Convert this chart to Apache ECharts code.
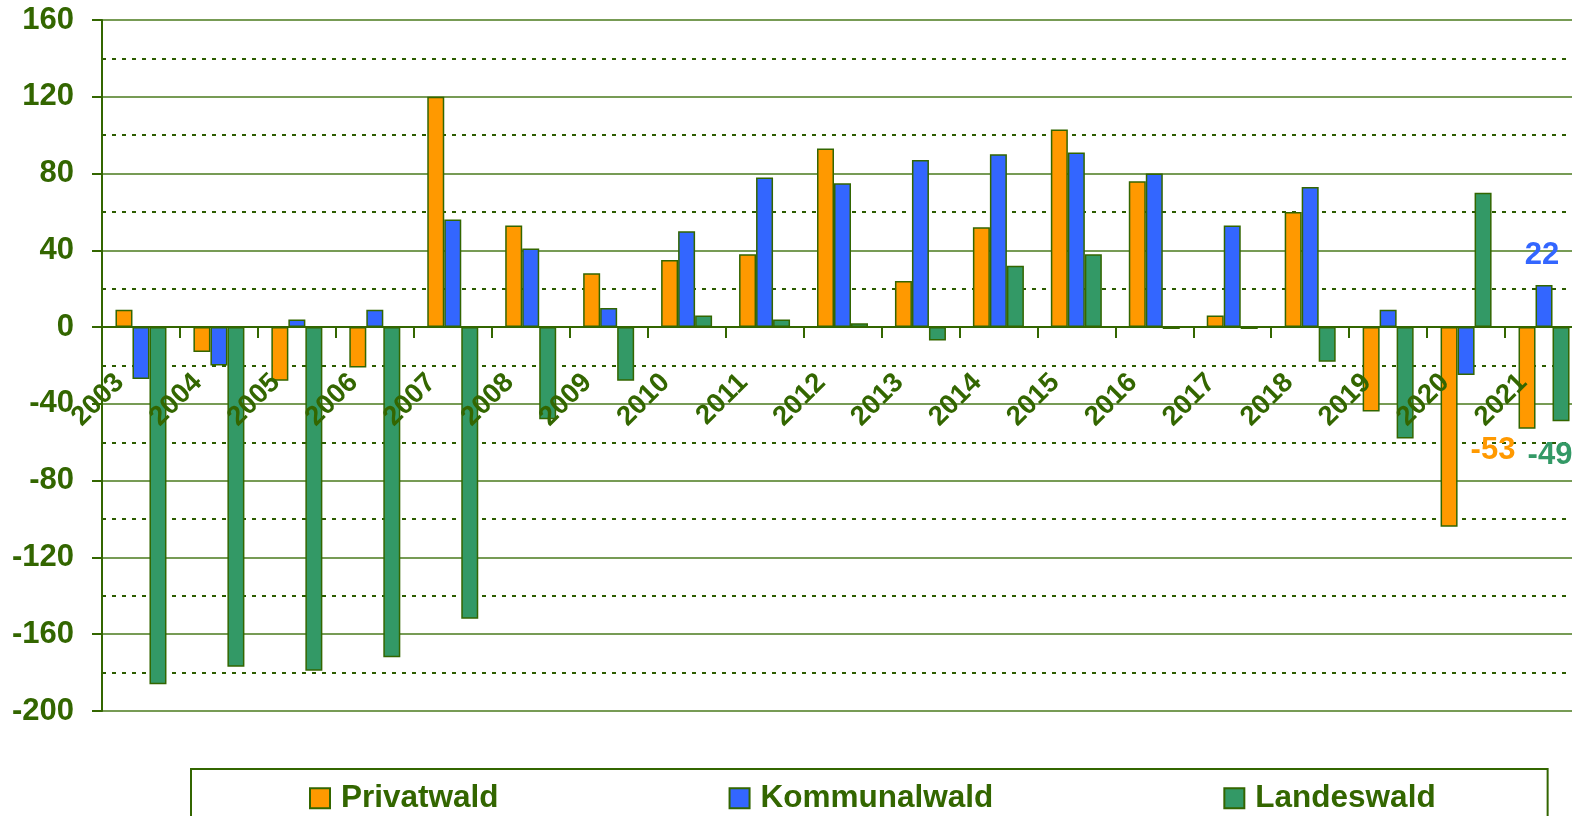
<style>
html, body { margin: 0; padding: 0; background: #fff; }
#chartElem { width: 1572px; height: 816px; }
</style>

<div id="chartElem"></div>

<script src="https://cdn.jsdelivr.net/npm/echarts@6.0.0/dist/echarts.min.js"></script>

<script>

let years = ["2003", "2004", "2005", "2006", "2007", "2008", "2009", "2010", "2011", "2012",
	"2013", "2014", "2015", "2016", "2017", "2018", "2019", "2020", "2021"];

let privatwald = [9, -13, -28, -21, 120, 53, 28, 35, 38, 93, 24, 52, 103, 76, 6, 60, -44, -104, -53];
let kommunalwald = [-27, -20, 4, 9, 56, 41, 10, 50, 78, 75, 87, 90, 91, 80, 53, 73, 9, -25, 22];
let landeswald = [-186, -177, -179, -172, -152, -48, -28, 6, 4, 2, -7, 32, 38, -1, -1, -18, -58, 70, -49];

let yMin = -200,
	yMax = 160;

let dark = "#336600",
	font = "Liberation Sans";

let gridTop = 20,
	gridBottom = 105,
	chartHeight = 816,
	// the year labels sit on the zero line, so shift their axis up from the grid bottom
	zeroOffset = -(0 - yMin) / (yMax - yMin) * (chartHeight - gridTop - gridBottom);

let chart = echarts.init(document.getElementById("chartElem"));

chart.setOption({
	animation: false,
	grid: {
		left: 102,
		right: -11,
		top: gridTop,
		bottom: gridBottom,
		outerBoundsMode: "none"
	},
	legend: {
		left: 191,
		top: 769,
		icon: "rect",
		itemWidth: 20,
		itemHeight: 20,
		itemGap: 230,
		borderColor: dark,
		borderWidth: 2,
		padding: [2, 112, 40, 118],
		textStyle: {
			fontFamily: font,
			fontSize: 31.5,
			fontWeight: "bold",
			color: dark,
			padding: [0, 0, 0, 6]
		}
	},
	xAxis: [
		{
			type: "category",
			data: years,
			z: 5,
			axisLine: {
				onZero: true,
				lineStyle: {color: dark, width: 2}
			},
			axisTick: {
				show: true,
				interval: 0,
				length: 11,
				lineStyle: {color: dark, width: 2}
			},
			axisLabel: {show: false},
			splitLine: {show: false}
		},
		{
			type: "category",
			data: years,
			position: "bottom",
			offset: zeroOffset,
			z: 6,
			axisLine: {show: false, onZero: false},
			axisTick: {show: false},
			axisLabel: {
				interval: 0,
				rotate: 45,
				margin: 30,
				padding: [0, 30, 0, 0],
				fontFamily: font,
				fontSize: 27.5,
				fontWeight: "bold",
				color: dark
			},
			splitLine: {show: false}
		}
	],
	yAxis: {
		type: "value",
		min: yMin,
		max: yMax,
		interval: 40,
		axisLine: {
			show: true,
			lineStyle: {color: dark, width: 2}
		},
		axisTick: {
			show: true,
			length: 10,
			lineStyle: {color: dark, width: 2}
		},
		axisLabel: {
			margin: 28,
			fontFamily: font,
			fontSize: 31,
			fontWeight: "bold",
			color: dark
		},
		splitLine: {
			lineStyle: {color: "#4a7a1c", width: 1.5}
		},
		minorTick: {show: false, splitNumber: 2},
		minorSplitLine: {
			show: true,
			lineStyle: {color: "#2d5c00", width: 2, type: [4, 6]}
		}
	},
	series: [
		makeSeries("Privatwald", privatwald, "#FF9900", [-34, -10]),
		makeSeries("Kommunalwald", kommunalwald, "#3366FF", [-2, 2]),
		makeSeries("Landeswald", landeswald, "#339966", [-11, 3])
	]
});


function makeSeries(name, values, color, labelOffset) {
	let last = values.length - 1;
	
	return {
		name: name,
		type: "bar",
		barWidth: 17,
		barGap: "0%",
		itemStyle: {
			color: color,
			borderColor: dark,
			borderWidth: 1.5
		},
		data: values.map((v, i) => i < last ? v : {
			value: v,
			label: {
				show: true,
				position: "outside",
				offset: labelOffset,
				fontFamily: font,
				fontSize: 31,
				fontWeight: "bold",
				color: color
			}
		})
	};
}

</script>
